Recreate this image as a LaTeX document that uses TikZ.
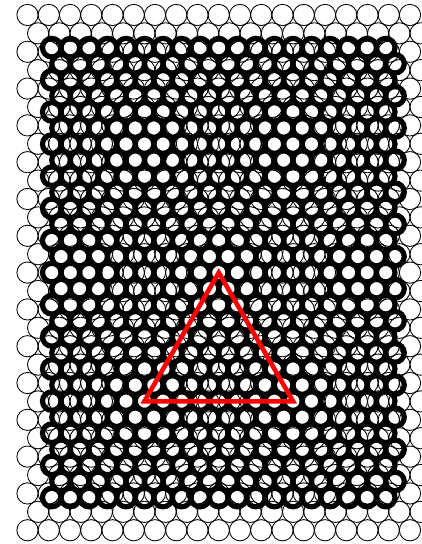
\documentclass[tikz,border=0pt]{standalone}
\begin{document}
\begin{tikzpicture}[x=1pt,y=-1pt,
  thinring/.style={draw=black,line width=0.85pt},
  thickring/.style={draw=black,line width=5.2pt},
  moire/.style={draw=red,line width=4.6pt,line join=miter}]
\useasboundingbox (0,0) rectangle (422,544);
\def\a{21.25}
\def\h{18.4030}
\def\cx{218.75}
\def\cy{272.6}
\def\k{0.873}
% thin lattice
\foreach \i in {0,...,28}{
  \foreach \j in {0,...,18}{
    \pgfmathsetmacro\xx{\cx+(\j-9+0.5*mod(\i,2))*\a}
    \pgfmathsetmacro\yy{\cy+(\i-14)*\h}
    \draw[thinring] (\xx,\yy) circle[radius=10.625pt];
  }
}
% thick (scaled) lattice
\foreach \i in {0,...,28}{
  \foreach \j in {0,...,18}{
    \pgfmathsetmacro\xx{\cx+\k*(\j-9+0.5*mod(\i,2))*\a}
    \pgfmathsetmacro\yy{\cy+\k*(\i-14)*\h}
    \draw[thickring] (\xx,\yy) circle[radius=9.3pt];
  }
}
% moire unit triangle
\coordinate (apex) at (\cx,\cy);
\coordinate (bl) at ({\cx-3.5*\a},{\cy+7*\h});
\coordinate (br) at ({\cx+3.5*\a},{\cy+7*\h});
\draw[moire] (apex) -- (bl) -- (br) -- cycle;
\end{tikzpicture}
\end{document}
